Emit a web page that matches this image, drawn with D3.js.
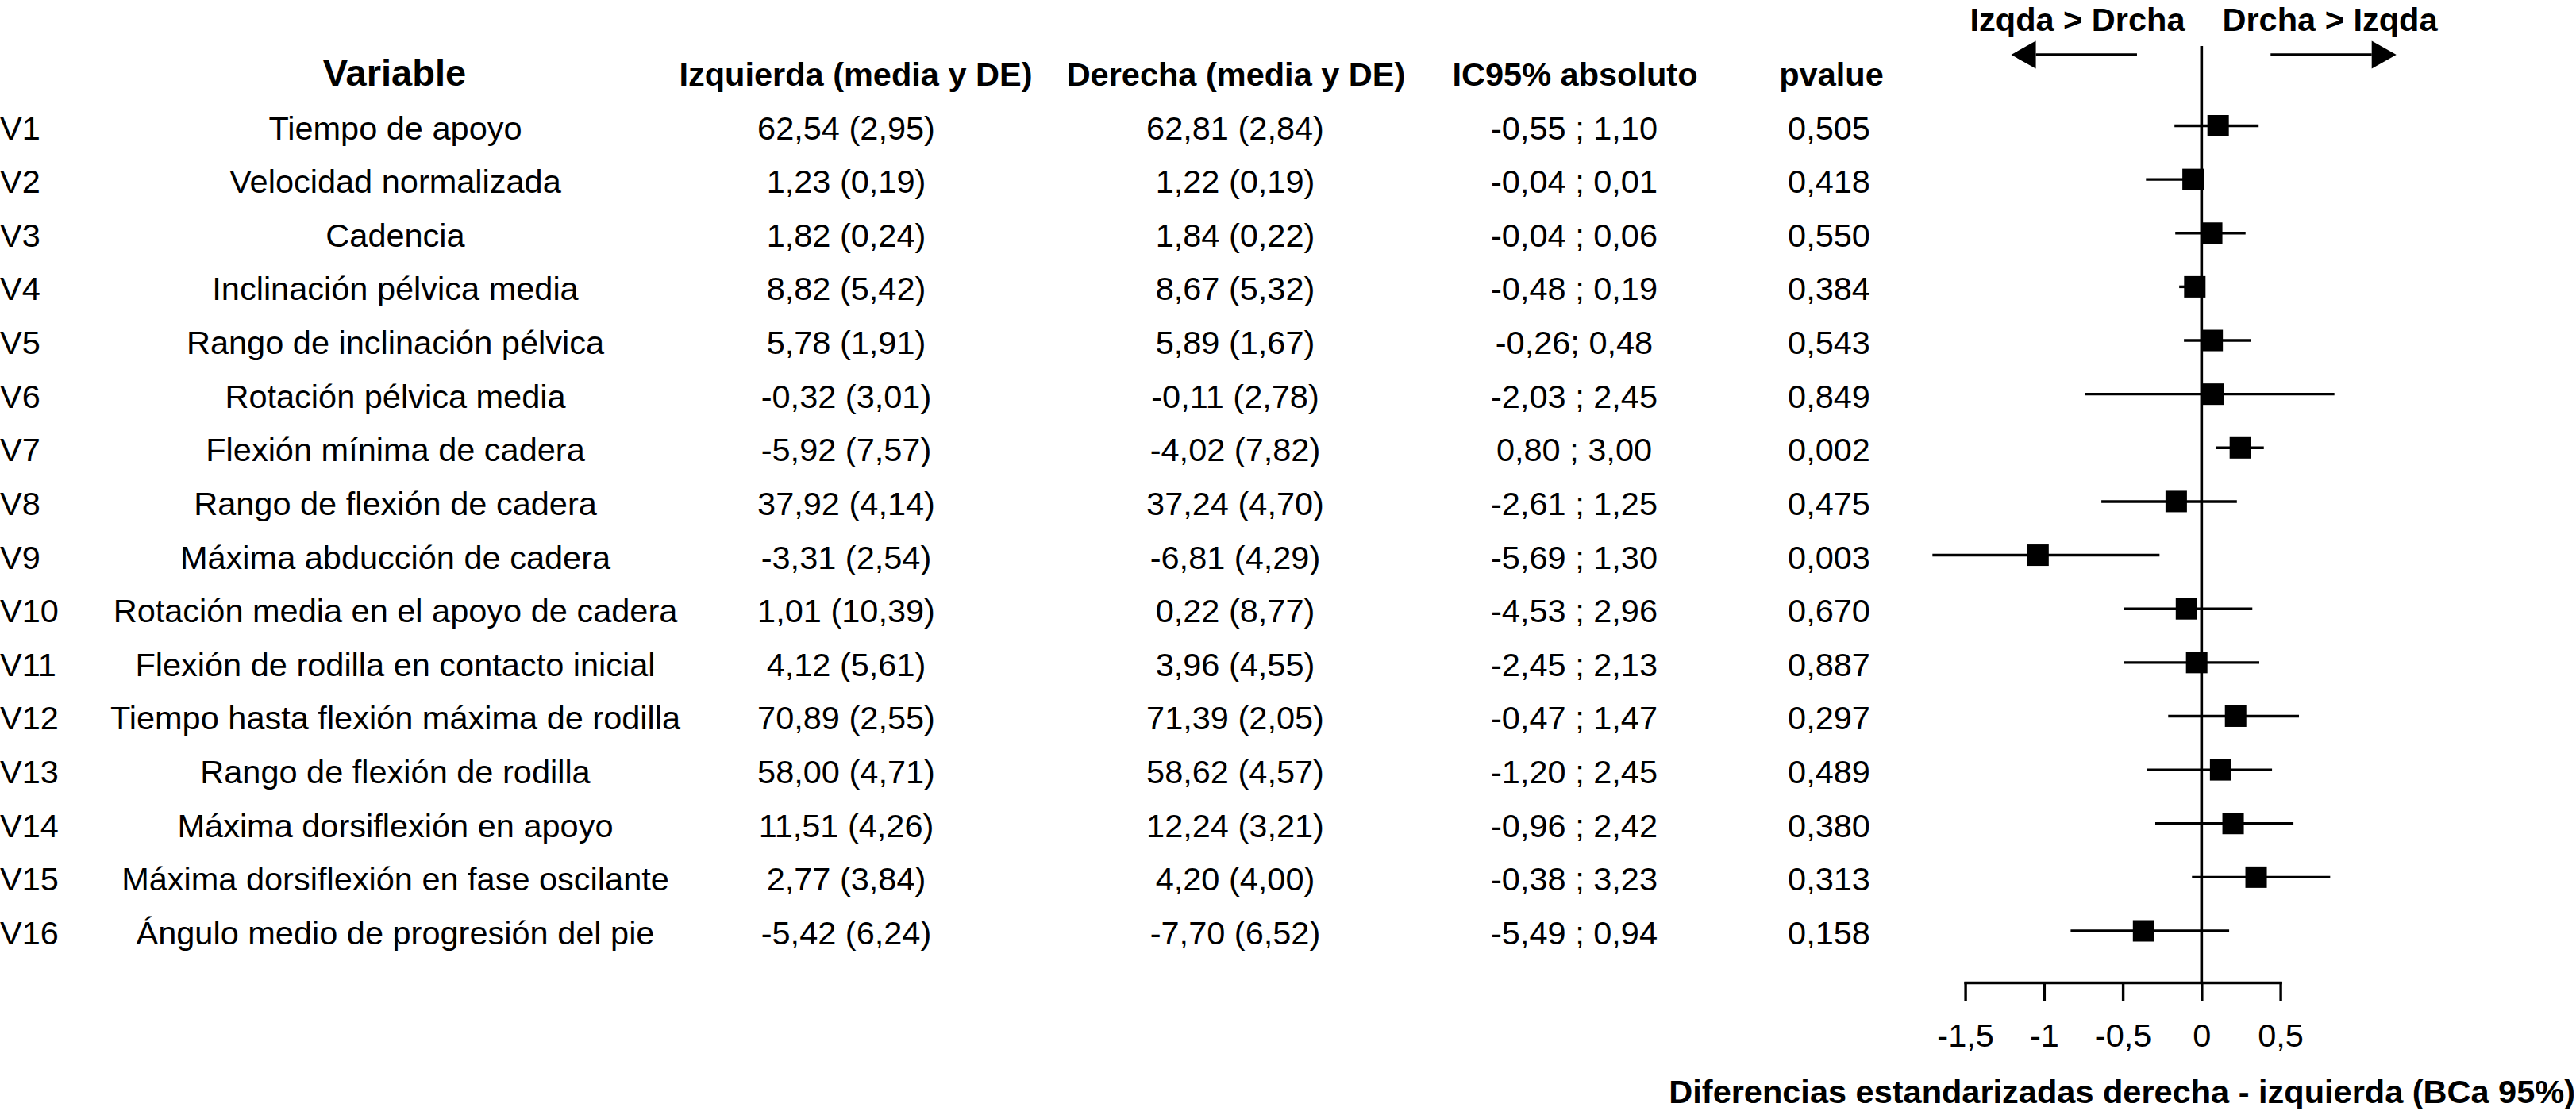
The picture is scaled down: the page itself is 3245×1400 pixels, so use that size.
<!DOCTYPE html>
<html>
<head>
<meta charset="utf-8">
<script src="https://cdn.jsdelivr.net/npm/d3@7"></script>
<style>
  html, body { margin: 0; padding: 0; background: #fff; }
  svg text { font-family: "Liberation Sans", Arial, Helvetica, sans-serif; fill: #000; }
</style>
</head>
<body>
<svg id="chart" width="3245" height="1400"></svg>
<script>
// ---------- DATA ----------
const variableIds = ["V1","V2","V3","V4","V5","V6","V7","V8","V9","V10","V11","V12","V13","V14","V15","V16"];
const variableNames = [
  "Tiempo de apoyo",
  "Velocidad normalizada",
  "Cadencia",
  "Inclinación pélvica media",
  "Rango de inclinación pélvica",
  "Rotación pélvica media",
  "Flexión mínima de cadera",
  "Rango de flexión de cadera",
  "Máxima abducción de cadera",
  "Rotación media en el apoyo de cadera",
  "Flexión de rodilla en contacto inicial",
  "Tiempo hasta flexión máxima de rodilla",
  "Rango de flexión de rodilla",
  "Máxima dorsiflexión en apoyo",
  "Máxima dorsiflexión en fase oscilante",
  "Ángulo medio de progresión del pie"
];
const izquierda = ["62,54 (2,95)","1,23 (0,19)","1,82 (0,24)","8,82 (5,42)","5,78 (1,91)","-0,32 (3,01)","-5,92 (7,57)","37,92 (4,14)","-3,31 (2,54)","1,01 (10,39)","4,12 (5,61)","70,89 (2,55)","58,00 (4,71)","11,51 (4,26)","2,77 (3,84)","-5,42 (6,24)"];
const derecha = ["62,81 (2,84)","1,22 (0,19)","1,84 (0,22)","8,67 (5,32)","5,89 (1,67)","-0,11 (2,78)","-4,02 (7,82)","37,24 (4,70)","-6,81 (4,29)","0,22 (8,77)","3,96 (4,55)","71,39 (2,05)","58,62 (4,57)","12,24 (3,21)","4,20 (4,00)","-7,70 (6,52)"];
const ic95 = ["-0,55 ; 1,10","-0,04 ; 0,01","-0,04 ; 0,06","-0,48 ; 0,19","-0,26; 0,48","-2,03 ; 2,45","0,80 ; 3,00","-2,61 ; 1,25","-5,69 ; 1,30","-4,53 ; 2,96","-2,45 ; 2,13","-0,47 ; 1,47","-1,20 ; 2,45","-0,96 ; 2,42","-0,38 ; 3,23","-5,49 ; 0,94"];
const pvalues = ["0,505","0,418","0,550","0,384","0,543","0,849","0,002","0,475","0,003","0,670","0,887","0,297","0,489","0,380","0,313","0,158"];
// standardized differences (right - left), BCa 95% CI
const effect = [0.105,-0.054,0.064,-0.043,0.067,0.075,0.246,-0.161,-1.038,-0.096,-0.031,0.216,0.121,0.200,0.346,-0.368];
const ciLow  = [-0.172,-0.353,-0.167,-0.142,-0.112,-0.742,0.089,-0.636,-1.708,-0.495,-0.495,-0.212,-0.348,-0.294,-0.061,-0.831];
const ciHigh = [0.362,0.005,0.279,0.010,0.314,0.843,0.395,0.224,-0.267,0.322,0.366,0.618,0.447,0.583,0.816,0.175];
const tickValues = [-1.5,-1,-0.5,0,0.5];
const tickLabels = ["-1,5","-1","-0,5","0","0,5"];
const headers = ["Variable","Izquierda (media y DE)","Derecha (media y DE)","IC95% absoluto","pvalue"];
const directionLabels = ["Izqda > Drcha","Drcha > Izqda"];
const axisTitle = "Diferencias estandarizadas derecha - izquierda (BCa 95%)";

// ---------- LAYOUT ----------
const svg = d3.select("#chart");
const FS = 41.5;
const rows = d3.range(variableIds.length);
const y = d3.scaleLinear().domain([0, variableIds.length - 1]).range([158.5, 1173]);
const x = d3.scaleLinear().domain([-1.5, 0.5]).range([2475.6, 2872.6]);
const axisY = 1238;
const baseOff = 17;

// headers
const headerX = [497, 1078, 1557, 1984, 2307];
svg.append("g").selectAll("text").data(headers).join("text")
  .attr("x", (d, i) => headerX[i])
  .attr("y", 108)
  .attr("text-anchor", "middle")
  .attr("font-weight", "bold")
  .attr("font-size", (d, i) => i === 0 ? 47 : FS)
  .text(d => d);

// table columns
const cols = [
  {vals: variableIds, x: 0, anchor: "start"},
  {vals: variableNames, x: 498, anchor: "middle"},
  {vals: izquierda, x: 1066, anchor: "middle"},
  {vals: derecha, x: 1556, anchor: "middle"},
  {vals: ic95, x: 1983, anchor: "middle"},
  {vals: pvalues, x: 2304, anchor: "middle"}
];
cols.forEach(c => {
  svg.append("g").selectAll("text").data(rows).join("text")
    .attr("x", c.x)
    .attr("y", i => y(i) + baseOff)
    .attr("text-anchor", c.anchor)
    .attr("font-size", FS)
    .text(i => c.vals[i]);
});

// zero reference line
svg.append("line")
  .attr("x1", x(0)).attr("x2", x(0))
  .attr("y1", 58).attr("y2", axisY)
  .attr("stroke", "#000").attr("stroke-width", 3.6);

// whiskers
svg.append("g").selectAll("line").data(rows).join("line")
  .attr("x1", i => x(ciLow[i]))
  .attr("x2", i => x(ciHigh[i]))
  .attr("y1", i => y(i)).attr("y2", i => y(i))
  .attr("stroke", "#000").attr("stroke-width", 3.4);

// squares
const sq = 27;
svg.append("g").selectAll("rect").data(rows).join("rect")
  .attr("x", i => x(effect[i]) - sq / 2)
  .attr("y", i => y(i) - sq / 2)
  .attr("width", sq).attr("height", sq)
  .attr("fill", "#000");

// x axis
const axis = d3.axisBottom(x)
  .tickValues(tickValues)
  .tickFormat((d, i) => tickLabels[i])
  .tickSize(23)
  .tickSizeOuter(0)
  .tickPadding(28.5);
const gAxis = svg.append("g").attr("transform", `translate(0,${axisY})`).call(axis);
gAxis.select(".domain").attr("stroke", "#000").attr("stroke-width", 3.4).attr("stroke-linecap", "square");
gAxis.selectAll(".tick line").attr("stroke", "#000").attr("stroke-width", 3.4);
gAxis.selectAll(".tick text")
  .attr("font-family", "Liberation Sans, Arial, Helvetica, sans-serif")
  .attr("font-size", FS).attr("fill", "#000");

// axis title
svg.append("text")
  .attr("x", 3244).attr("y", 1390)
  .attr("text-anchor", "end")
  .attr("font-weight", "bold")
  .attr("font-size", FS)
  .text(axisTitle);

// direction labels
svg.append("g").selectAll("text").data(directionLabels).join("text")
  .attr("x", (d, i) => i === 0 ? 2617 : 2935)
  .attr("y", 38.5)
  .attr("text-anchor", "middle")
  .attr("font-weight", "bold")
  .attr("font-size", FS)
  .text(d => d);

// direction arrows
const arrowY = 69, headLen = 31, headHalf = 17.5;
const arrows = [
  {from: x(-0.41), to: x(-1.208)},
  {from: x(0.438), to: x(1.236)}
];
arrows.forEach(a => {
  const dir = Math.sign(a.to - a.from);
  const base = a.to - dir * headLen;
  svg.append("line")
    .attr("x1", a.from).attr("x2", base)
    .attr("y1", arrowY).attr("y2", arrowY)
    .attr("stroke", "#000").attr("stroke-width", 3.4);
  svg.append("path")
    .attr("d", `M${a.to},${arrowY} L${base},${arrowY - headHalf} L${base},${arrowY + headHalf} Z`)
    .attr("fill", "#000");
});
</script>
</body>
</html>
